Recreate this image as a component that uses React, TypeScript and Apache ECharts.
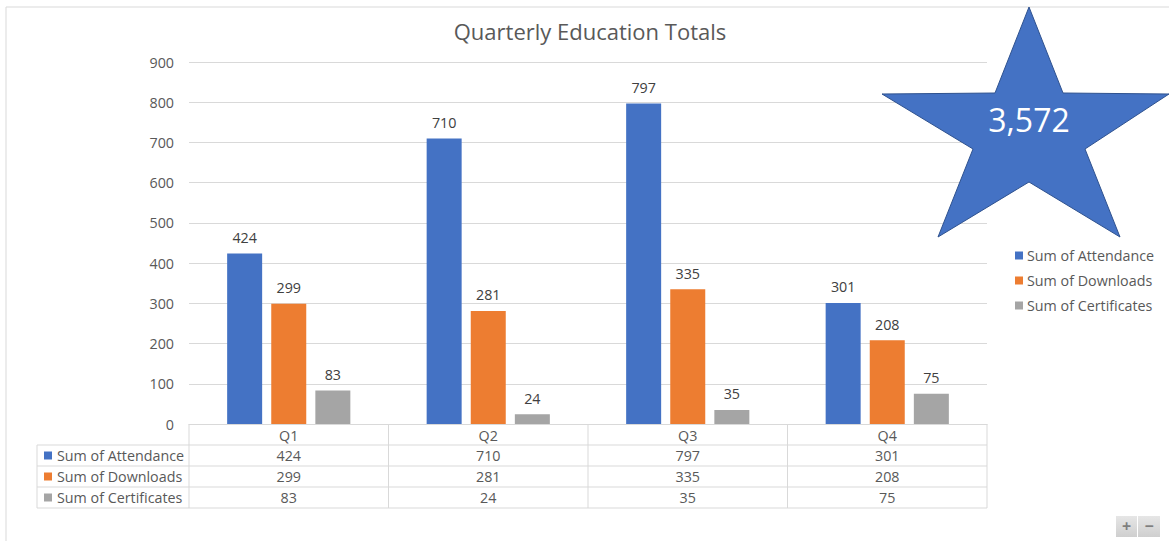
import React, { useEffect, useRef } from "react";
import * as echarts from "echarts";

const categories = ["Q1", "Q2", "Q3", "Q4"];
const seriesNames = ["Sum of Attendance", "Sum of Downloads", "Sum of Certificates"];
const attendance = [424, 710, 797, 301];
const downloads = [299, 281, 335, 208];
const certificates = [83, 24, 35, 75];
const yTicks = { min: 0, max: 900, interval: 100 };
const colors = ["#4472c4", "#ed7d31", "#a5a5a5"];
const titleText = "Quarterly Education Totals";

const FONT = "'Open Sans', 'Noto Sans', sans-serif";
const FS = 14.3;
const W = 1169;
const H = 541;
const GRID = { left: 189, right: 182, top: 62, bottom: 117 };
const ROW_H = 21;
const TABLE_LEFT = 37;
const BORDER = "#d9d9d9";
const TEXT = "#595959";

export default function App() {
  const ref = useRef<HTMLDivElement>(null);
  useEffect(() => {
    document.body.style.margin = "0";
    if (!ref.current) return;
    const chart = echarts.init(ref.current, null, { renderer: "svg" });
    const seriesData = [attendance, downloads, certificates];
    const total = seriesData.reduce((s, arr) => s + arr.reduce((a, b) => a + b, 0), 0);

    const plotLeft = GRID.left;
    const plotRight = W - GRID.right;
    const axisY = H - GRID.bottom;
    const catW = (plotRight - plotLeft) / categories.length;
    const tableBottom = axisY + ROW_H * (seriesNames.length + 1);

    const graphics: any[] = [];
    graphics.push({
      type: "polyline",
      shape: { points: [[6, H], [6, 7], [W, 7]] },
      style: { stroke: BORDER, lineWidth: 1, fill: "none" },
      silent: true,
    });
    for (let i = 0; i <= categories.length; i++) {
      const x = plotLeft + i * catW;
      graphics.push({
        type: "line",
        shape: { x1: x, y1: axisY, x2: x, y2: tableBottom },
        style: { stroke: BORDER, lineWidth: 1 },
      });
    }
    graphics.push({
      type: "line",
      shape: { x1: TABLE_LEFT, y1: axisY + ROW_H, x2: TABLE_LEFT, y2: tableBottom },
      style: { stroke: BORDER, lineWidth: 1 },
    });
    for (let r = 1; r <= seriesNames.length; r++) {
      const y = axisY + ROW_H * r;
      graphics.push({
        type: "line",
        shape: { x1: TABLE_LEFT, y1: y, x2: plotRight, y2: y },
        style: { stroke: BORDER, lineWidth: 1 },
      });
    }
    graphics.push({
      type: "line",
      shape: { x1: TABLE_LEFT, y1: tableBottom, x2: plotRight, y2: tableBottom },
      style: { stroke: BORDER, lineWidth: 1 },
    });
    seriesNames.forEach((name, r) => {
      const cy = axisY + ROW_H * (r + 1) + ROW_H / 2;
      graphics.push({
        type: "rect",
        shape: { x: 44, y: cy - 4, width: 8, height: 8 },
        style: { fill: colors[r] },
      });
      graphics.push({
        type: "text",
        x: 57,
        y: cy,
        style: { text: name, fill: TEXT, font: `${FS}px ${FONT}`, textVerticalAlign: "middle", textAlign: "left" },
      });
      seriesData[r].forEach((v, c) => {
        graphics.push({
          type: "text",
          x: plotLeft + catW * (c + 0.5),
          y: cy,
          style: { text: String(v), fill: TEXT, font: `${FS}px ${FONT}`, textVerticalAlign: "middle", textAlign: "center" },
        });
      });
    });
    graphics.push({
      type: "polygon",
      shape: {
        points: [
          [1029, 7], [1063, 93], [1169, 94], [1085, 149], [1120, 237],
          [1029, 182], [938, 237], [973, 149], [882, 94], [995, 93],
        ],
      },
      style: { fill: "#4472c4", stroke: "#2f528f", lineWidth: 1 },
      z: 10,
    });
    graphics.push({
      type: "text",
      x: 1029,
      y: 119,
      style: {
        text: total.toLocaleString("en-US"),
        fill: "#ffffff",
        font: `32px ${FONT}`,
        textAlign: "center",
        textVerticalAlign: "middle",
      },
      z: 11,
    });
    [["+", 1116, 21], ["\u2212", 1138, 22]].forEach(([label, x, w]) => {
      graphics.push({
        type: "rect",
        shape: { x: x as number, y: 516, width: w as number, height: 21 },
        style: {
          fill: new echarts.graphic.LinearGradient(0, 0, 0, 1, [
            { offset: 0, color: "#e6e6e6" },
            { offset: 1, color: "#cfcfcf" },
          ]),
        },
      });
      graphics.push({
        type: "text",
        x: (x as number) + (w as number) / 2,
        y: 526,
        style: {
          text: label as string,
          fill: "#7f7f7f",
          font: `bold 16px ${FONT}`,
          textAlign: "center",
          textVerticalAlign: "middle",
        },
      });
    });

    chart.setOption({
      animation: false,
      backgroundColor: "#ffffff",
      color: colors,
      title: {
        text: titleText,
        left: 585,
        textAlign: "center",
        top: 15,
        textStyle: { fontFamily: FONT, fontSize: 22, fontWeight: "normal", color: TEXT },
      },
      legend: {
        orient: "vertical",
        left: 1015,
        top: 248,
        padding: 0,
        itemWidth: 8,
        itemHeight: 8,
        itemGap: 10,
        icon: "rect",
        data: seriesNames,
        textStyle: { fontFamily: FONT, fontSize: FS, color: TEXT, lineHeight: 15, padding: [0, 0, 0, -1] },
      },
      grid: { ...GRID, containLabel: false },
      xAxis: {
        type: "category",
        data: categories,
        axisLine: { show: true, lineStyle: { color: BORDER } },
        axisTick: { show: false },
        axisLabel: { fontFamily: FONT, fontSize: FS, color: TEXT, margin: 4 },
      },
      yAxis: {
        type: "value",
        min: yTicks.min,
        max: yTicks.max,
        interval: yTicks.interval,
        axisLine: { show: false },
        axisTick: { show: false },
        splitLine: { lineStyle: { color: BORDER } },
        axisLabel: { fontFamily: FONT, fontSize: FS, color: TEXT, margin: 15 },
      },
      series: seriesNames.map((name, i) => ({
        name,
        type: "bar",
        data: seriesData[i],
        barWidth: 35,
        barGap: "26%",
        itemStyle: { color: colors[i] },
        label: {
          show: true,
          position: "top",
          distance: 9,
          fontFamily: FONT,
          fontSize: FS,
          color: "#404040",
        },
      })),
      graphic: graphics,
    });
    return () => chart.dispose();
  }, []);
  return (
    <div
      ref={ref}
      style={{ position: "absolute", left: 0, top: 0, width: W, height: H }}
    />
  );
}
